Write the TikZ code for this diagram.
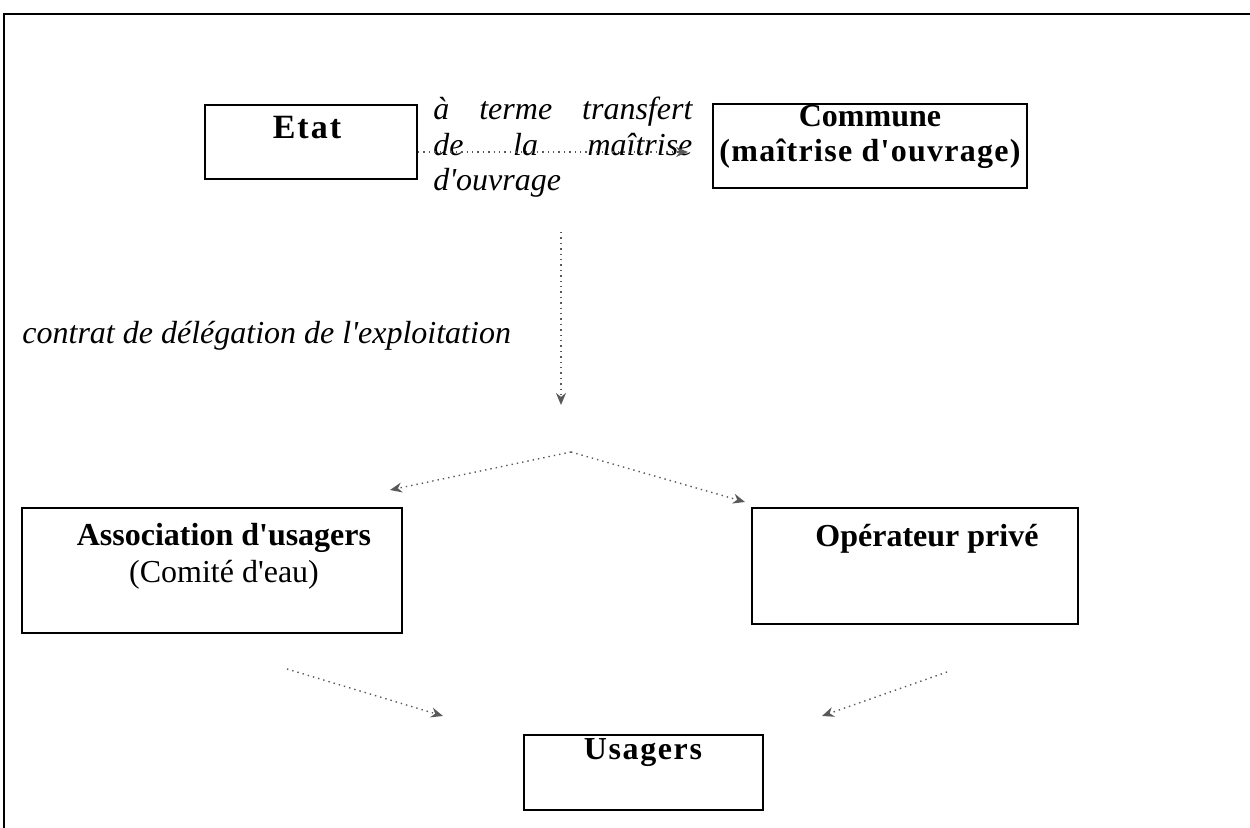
\documentclass[tikz,border=0pt]{standalone}
\usepackage{fontspec}
\setmainfont{Liberation Serif}[Ligatures=TeXOff]
\usetikzlibrary{arrows.meta}
\usetikzlibrary{positioning}

\tikzset{
  box/.style={draw, line width=1pt, inner sep=0pt},
  flow/.style={dotted, line width=0.7pt, black!65, -{Stealth[length=6pt,width=5pt]}},
  boxtext/.style={font=\fontsize{16}{18.5}\selectfont\bfseries, align=center, inner sep=0pt},
}

\begin{document}
\begin{tikzpicture}[x=0.5pt, y=-0.5pt, font=\fontsize{16}{18}\selectfont]
  \useasboundingbox (0,0) rectangle (1250,828);
  \draw[line width=1.2pt] (4,828) -- (4,14) -- (1250,14);

  % boxes
  \node[box, minimum width=106pt, minimum height=37pt] (etat) at (311,142) {};
  \node[box, minimum width=157pt, minimum height=42pt] (commune) at (870,146) {};
  \node[box, minimum width=190pt, minimum height=62.5pt] (assoc) at (212,570.5) {};
  \node[box, minimum width=163pt, minimum height=58pt] (operateur) at (915,566) {};
  \node[box, minimum width=119.5pt, minimum height=37.5pt] (usagers) at (643.5,772.5) {};

  % box texts
  \node[boxtext, font=\fontsize{17}{18.5}\selectfont\bfseries] (etatlbl) at (307,128) {\addfontfeatures{LetterSpace=6}Etat};
  \node[boxtext, font=\fontsize{16}{17.5}\selectfont\bfseries] (communelbl) at (870,137)
        {Commune\\\addfontfeatures{LetterSpace=4}(maîtrise d'ouvrage)};
  \node[boxtext] (assoclbl) at (224,556) {Association d'usagers\\\mdseries(Comité d'eau)};
  \node[boxtext] (operateurlbl) at (927,539) {Opérateur privé};
  \node[boxtext] (usagerslbl) at (643,753) {\addfontfeatures{LetterSpace=5}Usagers};

  % free labels
  \node[anchor=north west, inner sep=0pt, text width=129.5pt, align=justify,
        font=\fontsize{16}{17.75}\selectfont\itshape] (transfert) at (433,97)
        {à terme transfert\linebreak de la maîtrise\linebreak d'ouvrage};
  \node[anchor=base west, inner sep=0pt, font=\fontsize{16}{18}\selectfont\itshape] (contrat) at (22,344)
        {contrat de délégation de l'exploitation};

  % connectors
  \coordinate (transtip) at (688,152);
  \coordinate (deltop) at (561,232);
  \coordinate (delend) at (561,405);
  \coordinate (fork) at (571,452);
  \coordinate (assoctip) at (390,490);
  \coordinate (optip) at (745,502);
  \coordinate (assocout) at (287,669);
  \coordinate (associn) at (443,716);
  \coordinate (opout) at (947,672);
  \coordinate (opin) at (822,716);

  \draw[flow] (etat.east |- transtip) -- (transtip);
  \draw[flow] (deltop) -- (delend);
  \draw[flow] (fork) -- (assoctip);
  \draw[flow] (fork) -- (optip);
  \draw[flow] (assocout) -- (associn);
  \draw[flow] (opout) -- (opin);
\end{tikzpicture}
\end{document}
